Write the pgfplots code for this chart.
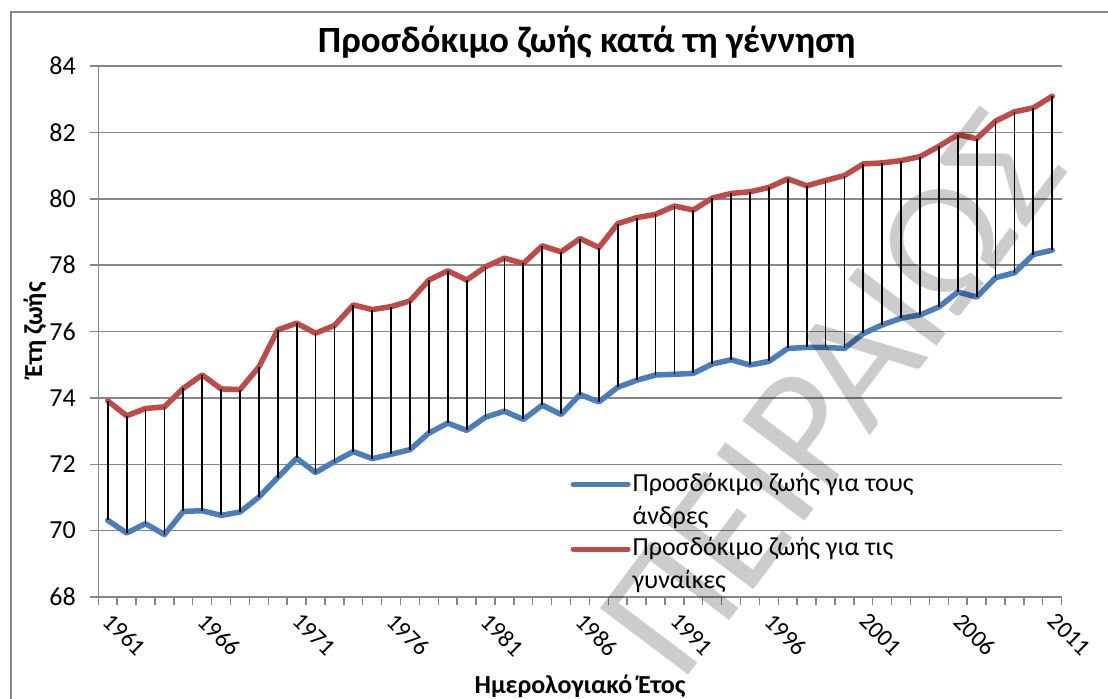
\documentclass[border=0pt]{standalone}
\usepackage{fontspec}
\setmainfont{Carlito}
\usepackage{pgfplots}
\pgfplotsset{compat=1.18}
\usepackage{pgfplotstable}

\pgfplotstableread{
year m f
1961 70.31 73.91
1962 69.93 73.46
1963 70.21 73.68
1964 69.88 73.73
1965 70.58 74.29
1966 70.60 74.69
1967 70.46 74.27
1968 70.56 74.25
1969 71.01 74.93
1970 71.60 76.05
1971 72.18 76.25
1972 71.75 75.95
1973 72.08 76.18
1974 72.38 76.80
1975 72.17 76.66
1976 72.30 76.75
1977 72.44 76.92
1978 72.94 77.55
1979 73.24 77.83
1980 73.02 77.55
1981 73.42 77.95
1982 73.60 78.21
1983 73.35 78.05
1984 73.78 78.58
1985 73.50 78.40
1986 74.10 78.80
1987 73.88 78.53
1988 74.32 79.25
1989 74.53 79.43
1990 74.69 79.53
1991 74.71 79.78
1992 74.74 79.66
1993 75.02 80.02
1994 75.15 80.16
1995 74.99 80.21
1996 75.10 80.34
1997 75.49 80.60
1998 75.52 80.39
1999 75.52 80.55
2000 75.49 80.70
2001 75.94 81.05
2002 76.20 81.08
2003 76.40 81.15
2004 76.50 81.27
2005 76.74 81.58
2006 77.19 81.93
2007 77.04 81.81
2008 77.62 82.34
2009 77.77 82.62
2010 78.32 82.74
2011 78.45 83.09
}\data

\definecolor{mblue}{HTML}{4A7EBB}
\definecolor{fred}{HTML}{BE4B48}
\definecolor{gridgray}{HTML}{868686}

\begin{document}
\begin{tikzpicture}
\useasboundingbox (0bp,0bp) rectangle (1108bp,-699bp);
\draw[gridgray, line width=2bp] (11bp,-1000bp) -- (11bp,-12bp) -- (1300bp,-12bp);
\begin{axis}[
  at={(98.3bp,-597bp)}, anchor=south west,
  scale only axis, width=963.4bp, height=531bp,
  xmin=1960.5, xmax=2011.5, ymin=68, ymax=84,
  axis x line*=bottom, axis y line*=left,
  axis line style={gridgray, line width=1.5bp, -},
  tick align=outside,
  major tick length=8bp,
  tick style={gridgray, line width=1.5bp},
  ytick={68,70,...,84},
  ymajorgrids, major grid style={gridgray, line width=1.5bp},
  xtick={1960.5,1961.5,...,2011.5},
  xticklabels={},
  extra x ticks={1961,1966,1971,1976,1981,1986,1991,1996,2001,2006,2011},
  extra x tick labels={1961,1966,1971,1976,1981,1986,1991,1996,2001,2006,2011},
  extra x tick style={major tick length=0pt, grid=none,
    tick label style={rotate=-45, anchor=north west, xshift=10.8bp, yshift=-2.8bp,
      font=\fontsize{24bp}{28bp}\selectfont}},
  /pgf/number format/assume math mode=true,
  tick label style={font=\fontsize{26bp}{30bp}\selectfont, text=black},
  yticklabel style={xshift=-11bp},
  title={Προσδόκιμο ζωής κατά τη γέννηση},
  title style={at={(axis description cs:0.507,1.034)}, anchor=center,
    font=\fontsize{37bp}{42bp}\selectfont\bfseries},
  xlabel={Ημερολογιακό Έτος},
  xlabel style={at={(axis description cs:0.5,-0.168)}, anchor=center,
    font=\fontsize{26bp}{30bp}\selectfont\bfseries},
  ylabel={Έτη ζωής},
  ylabel style={at={(axis description cs:-0.0657,0.503)}, anchor=center, rotate=0,
    font=\fontsize{26bp}{30bp}\selectfont\bfseries},
  legend style={draw=none, fill=none, at={(rel axis cs:0.49,0.238)}, anchor=north west,
    font=\fontsize{26bp}{33bp}\selectfont, row sep=8bp, inner sep=0pt},
  legend cell align=left,
  legend image code/.code={\draw[#1, line width=5bp, line cap=round] (0bp,15bp) -- (55bp,15bp);},
]
\addplot[mblue, line width=5.5bp, line join=round, line cap=round] table[x=year, y=m] {\data};
\addlegendentry{\vbox{\hbox{Προσδόκιμο ζωής για τους}\hbox{άνδρες}}}
\addplot[fred, line width=5.5bp, line join=round, line cap=round] table[x=year, y=f] {\data};
\addlegendentry{\vbox{\hbox{Προσδόκιμο ζωής για τις}\hbox{γυναίκες}}}
\addplot[forget plot, draw=none, mark=none,
  error bars/.cd, y dir=minus, y explicit,
  error mark=none, error bar style={black, line width=1.8bp}]
  table[x=year, y=f, y error expr=\thisrow{f}-\thisrow{m}] {\data};
\end{axis}
\node[rotate=53, text=black, text opacity=0.2, font=\fontsize{172bp}{172bp}\selectfont] at (832bp,-393bp) {ΠΕΙΡΑΙΩΣ};
\end{tikzpicture}
\end{document}
